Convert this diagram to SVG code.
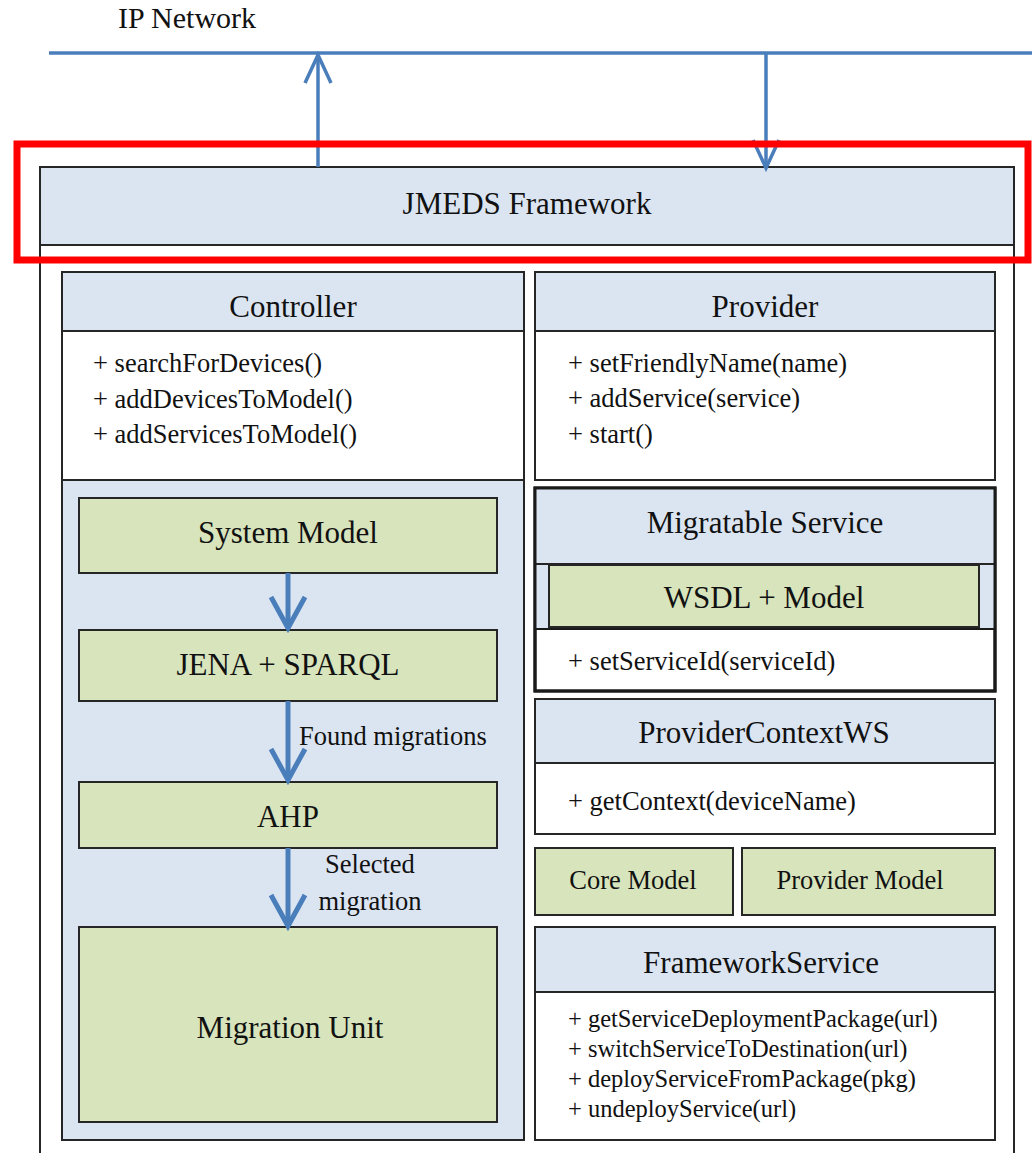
<svg xmlns="http://www.w3.org/2000/svg" width="1032" height="1153" viewBox="0 0 1032 1153">
<defs>
<style>
.h{font-size:31px;text-anchor:middle}
.m{font-size:26.5px}
.s{font-size:24.5px}
.lbl{font-size:26.5px}
.blue{fill:#dbe5f1;stroke:#262626;stroke-width:2}
.green{fill:#d7e4bc;stroke:#262626;stroke-width:2}
.white{fill:#ffffff;stroke:#262626;stroke-width:2}
.conn{stroke:#4a7ebb;fill:none}
</style>
<marker id="vBig" viewBox="-4 -4 42 42" refX="31" refY="17" markerWidth="42" markerHeight="42" markerUnits="userSpaceOnUse" orient="auto" overflow="visible">
<path d="M0,0 L31,17 L0,34" fill="none" stroke="#4a7ebb" stroke-width="5"/>
</marker>
<marker id="vSmall" viewBox="-4 -4 36 34" refX="28" refY="13" markerWidth="36" markerHeight="34" markerUnits="userSpaceOnUse" orient="auto" overflow="visible">
<path d="M0,0 L28,13 L0,26" fill="none" stroke="#4a7ebb" stroke-width="3.5"/>
</marker>
</defs>
<rect width="1032" height="1153" fill="#ffffff"/>
<g font-family="Liberation Serif, Times New Roman, serif" fill="#111">

<g id="ip-network">
<text x="118" y="28" font-size="30">IP Network</text>
<line x1="49" y1="53" x2="1032" y2="53" stroke="#4a7ebb" stroke-width="3.5"/>
</g>

<g id="framework">
<rect class="white" x="40" y="167" width="974" height="1010"/>
</g>

<g id="jmeds">
<rect class="blue" x="40" y="167" width="974" height="78"/>
<text class="h" x="527" y="214">JMEDS Framework</text>
</g>

<g id="controller">
<rect class="white" x="62" y="272" width="462" height="868"/>
<rect class="blue" x="62" y="272" width="462" height="59"/>
<text class="h" x="293" y="317">Controller</text>
<text class="m" x="93" y="372">+ searchForDevices()</text>
<text class="m" x="93" y="408">+ addDevicesToModel()</text>
<text class="m" x="93" y="443">+ addServicesToModel()</text>
<rect class="blue" x="62" y="480" width="462" height="660"/>
</g>

<g id="system-model">
<rect class="green" x="79" y="498" width="418" height="75"/>
<text class="h" x="288" y="543">System Model</text>
</g>
<g id="jena-sparql">
<rect class="green" x="79" y="630" width="418" height="71"/>
<text class="h" x="288" y="675">JENA + SPARQL</text>
</g>
<g id="ahp">
<rect class="green" x="79" y="782" width="418" height="66"/>
<text class="h" x="288" y="827">AHP</text>
</g>
<g id="migration-unit">
<rect class="green" x="79" y="927" width="418" height="195"/>
<text class="h" x="290" y="1038">Migration Unit</text>
</g>

<g id="provider">
<rect class="white" x="535" y="272" width="460" height="208"/>
<rect class="blue" x="535" y="272" width="460" height="59"/>
<text class="h" x="765" y="317">Provider</text>
<text class="m" x="568" y="372">+ setFriendlyName(name)</text>
<text class="m" x="568" y="407">+ addService(service)</text>
<text class="m" x="568" y="443">+ start()</text>
</g>

<g id="migratable-service">
<rect x="535" y="488" width="460" height="203" fill="#ffffff" stroke="#1a1a1a" stroke-width="3"/>
<rect x="535" y="488" width="460" height="141" fill="#dbe5f1" stroke="#1a1a1a" stroke-width="2"/>
<line x1="535" y1="564" x2="995" y2="564" stroke="#262626" stroke-width="2"/>
<rect x="535" y="488" width="460" height="203" fill="none" stroke="#1a1a1a" stroke-width="3"/>
<text class="h" x="765" y="533">Migratable Service</text>
<text class="m" x="568" y="670">+ setServiceId(serviceId)</text>
</g>
<g id="wsdl-model">
<rect class="green" x="549" y="565" width="430" height="62"/>
<text class="h" x="764" y="608">WSDL + Model</text>
</g>

<g id="provider-context-ws">
<rect class="white" x="535" y="699" width="460" height="135"/>
<rect class="blue" x="535" y="699" width="460" height="64"/>
<text class="h" x="764" y="743">ProviderContextWS</text>
<text class="m" x="568" y="810">+ getContext(deviceName)</text>
</g>

<g id="core-model">
<rect class="green" x="535" y="848" width="198" height="67"/>
<text class="m" x="633" y="889" text-anchor="middle">Core Model</text>
</g>
<g id="provider-model">
<rect class="green" x="742" y="848" width="253" height="67"/>
<text class="m" x="860" y="889" text-anchor="middle">Provider Model</text>
</g>

<g id="framework-service">
<rect class="white" x="535" y="927" width="460" height="213"/>
<rect class="blue" x="535" y="927" width="460" height="65"/>
<text class="h" x="761" y="973">FrameworkService</text>
<text class="s" x="568" y="1027">+ getServiceDeploymentPackage(url)</text>
<text class="s" x="568" y="1057">+ switchServiceToDestination(url)</text>
<text class="s" x="568" y="1087">+ deployServiceFromPackage(pkg)</text>
<text class="s" x="568" y="1117">+ undeployService(url)</text>
</g>

<g id="connectors">
<line class="conn" x1="318" y1="167" x2="318" y2="55" stroke-width="3.5" marker-end="url(#vSmall)"/>
<line class="conn" x1="766" y1="53" x2="766" y2="168" stroke-width="3.5" marker-end="url(#vSmall)"/>
<line class="conn" x1="288" y1="573" x2="288" y2="628" stroke-width="5" marker-end="url(#vBig)"/>
<line class="conn" x1="288" y1="701" x2="288" y2="780" stroke-width="5" marker-end="url(#vBig)"/>
<text class="lbl" x="299" y="745">Found migrations</text>
<line class="conn" x1="288" y1="848" x2="288" y2="926" stroke-width="5" marker-end="url(#vBig)"/>
<text class="lbl" x="370" y="873" text-anchor="middle">Selected</text>
<text class="lbl" x="370" y="910" text-anchor="middle">migration</text>
</g>

<g id="highlight">
<rect x="17" y="144" width="1011" height="116" fill="none" stroke="#ff0000" stroke-width="7"/>
</g>
</g>
</svg>
